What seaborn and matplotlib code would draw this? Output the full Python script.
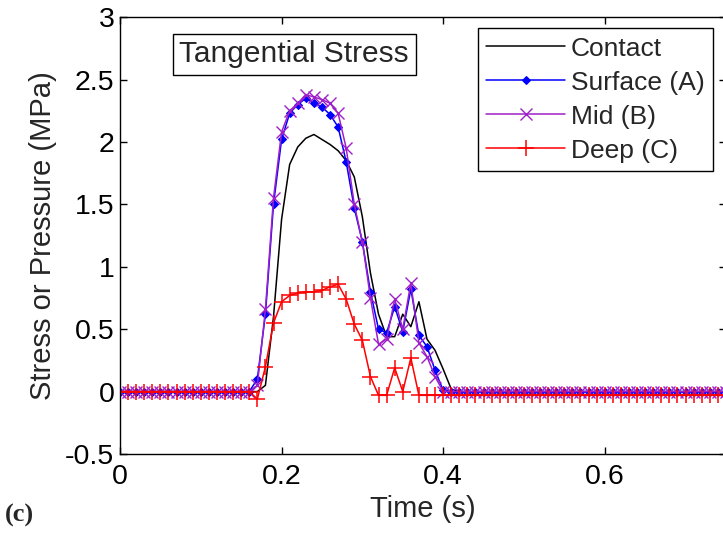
import numpy as np
import pandas as pd
import matplotlib
matplotlib.use("Agg")
import matplotlib.pyplot as plt
import seaborn as sns

# time samples (s)
time = [round(i * 0.01, 2) for i in range(76)]

contact = ([0.0] * 18 +
           [0.05, 0.60, 1.38, 1.82, 1.96, 2.03, 2.06, 2.02, 1.98, 1.93,
            1.85, 1.72, 1.40, 0.95, 0.62, 0.44, 0.44, 0.62, 0.52, 0.72,
            0.42, 0.33, 0.18, 0.02] +
           [0.0] * 34)
surface = ([0.0] * 17 +
           [0.10, 0.62, 1.50, 2.02, 2.23, 2.30, 2.35, 2.31, 2.28, 2.22,
            2.12, 1.84, 1.47, 1.20, 0.80, 0.50, 0.47, 0.68, 0.48, 0.82,
            0.45, 0.36, 0.17, 0.01] +
           [0.0] * 35)
mid = ([0.0] * 17 +
       [0.05, 0.66, 1.55, 2.08, 2.25, 2.31, 2.38, 2.36, 2.34, 2.31,
        2.23, 1.95, 1.50, 1.20, 0.75, 0.38, 0.42, 0.74, 0.50, 0.87,
        0.39, 0.28, 0.12, 0.0] +
       [0.0] * 35)
deep = ([0.0] * 17 +
        [-0.06, 0.20, 0.55, 0.72, 0.77, 0.79, 0.80, 0.80, 0.81, 0.84,
         0.86, 0.74, 0.54, 0.41, 0.12, -0.03, -0.03, 0.19, 0.00, 0.27,
         -0.03] +
        [-0.03] * 38)

series_names = ["Contact", "Surface (A)", "Mid (B)", "Deep (C)"]
x_ticks = [0, 0.2, 0.4, 0.6]
y_ticks = [-0.5, 0, 0.5, 1, 1.5, 2, 2.5, 3]

sns.set_theme(style="white")
plt.rcParams['font.family'] = ['Liberation Sans', 'DejaVu Sans']

fig = plt.figure(figsize=(7.23, 5.37), dpi=100)
ax = fig.add_axes([0.166, 0.1546, 0.838, 0.8134])

df = pd.DataFrame({"t": time, "Contact": contact, "Surface (A)": surface,
                   "Mid (B)": mid, "Deep (C)": deep})

styles = {
    "Contact": dict(color="black", marker=None),
    "Surface (A)": dict(color="#0000ff", marker="D", markersize=4),
    "Mid (B)": dict(color="#a020c8", marker="x", markersize=9, markeredgewidth=1),
    "Deep (C)": dict(color="#ff0000", marker="+", markersize=12, markeredgewidth=1.1),
}
for name in series_names:
    st = styles[name]
    kw = dict(linewidth=1.1)
    if st["marker"] is not None:
        kw.update(marker=st["marker"], markersize=st["markersize"],
                  markeredgecolor=st["color"], markerfacecolor=st["color"])
        if "markeredgewidth" in st:
            kw["markeredgewidth"] = st["markeredgewidth"]
    sns.lineplot(data=df, x="t", y=name, ax=ax, color=st["color"], label=name, **kw)

ax.set_xlim(0, 0.75)
ax.set_ylim(-0.5, 3)
ax.set_xticks(x_ticks)
ax.set_xticklabels(["0", "0.2", "0.4", "0.6"])
ax.set_yticks(y_ticks)
ax.set_yticklabels(["-0.5", "0", "0.5", "1", "1.5", "2", "2.5", "3"])
ax.tick_params(direction="in", length=5, width=1, colors="black",
               labelsize=20.5, top=True, right=True, bottom=True, left=True)
ax.tick_params(axis="y", pad=4)
ax.tick_params(axis="x", pad=7)
for sp in ax.spines.values():
    sp.set_color("black")
    sp.set_linewidth(1)
ax.set_xlabel("Time (s)", fontsize=21, labelpad=4)
ax.set_ylabel("Stress or Pressure (MPa)", fontsize=21, labelpad=6)
ax.grid(False)

leg = ax.legend(loc="upper right", bbox_to_anchor=(0.9785, 0.975), fontsize=19,
                frameon=True, fancybox=False, framealpha=1, edgecolor="black",
                handlelength=3.0, labelspacing=0.38, borderpad=0.32,
                handletextpad=0.2, borderaxespad=0)
leg.get_frame().set_linewidth(1)

ax.text(0.098, 0.915, "Tangential Stress", transform=ax.transAxes, fontsize=21.5,
        ha="left", va="center",
        bbox=dict(boxstyle="square,pad=0.22", facecolor="white", edgecolor="black", linewidth=1))

fig.text(0.007, 0.028, "(c)", fontsize=19, fontweight="bold",
         family=["Liberation Serif", "DejaVu Serif"], ha="left", va="baseline")

fig.savefig("out.png", dpi=100)
